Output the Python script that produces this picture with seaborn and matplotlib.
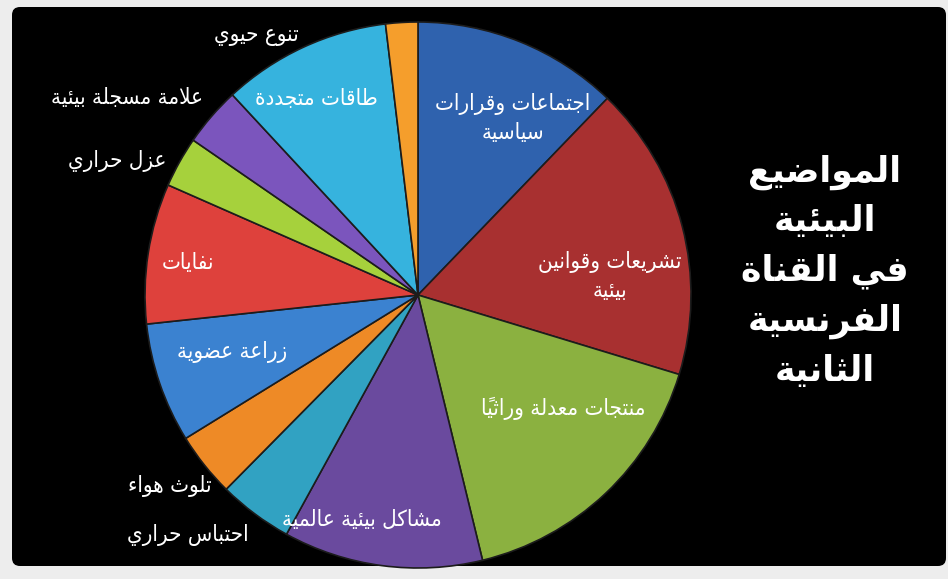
import matplotlib
matplotlib.use("Agg")
import matplotlib.pyplot as plt
from matplotlib.patches import FancyBboxPatch
import seaborn as sns

# ---------------- data ----------------
topics = [
    "اجتماعات وقرارات\nسياسية",
    "تشريعات وقوانين\nبيئية",
    "منتجات معدلة وراثياً",
    "مشاكل بيئية عالمية",
    "احتباس حراري",
    "تلوث هواء",
    "زراعة عضوية",
    "نفايات",
    "عزل حراري",
    "علامة مسجلة بيئية",
    "طاقات متجددة",
    "تنوع حيوي",
]
shares = [12.2, 17.5, 16.5, 11.8, 4.4, 3.8, 7.1, 8.3, 3.0, 3.5, 10.0, 1.9]
title_text = "المواضيع\nالبيئية\nفي القناة\nالفرنسية\nالثانية"

slice_colors = ["#2F62AE", "#A83030", "#8BB140", "#6A4A9E", "#31A2C2", "#EE8A26",
                "#3B82D0", "#DE413C", "#A6D13C", "#7B55BD", "#36B3DE", "#F59E2C"]

# label layout (pixel centres in the 948x579 canvas)
label_xy = [(513, 118), (610, 276), (563, 408), (362, 520), (188, 535), (170, 486),
            (232, 352), (188, 263), (117, 161), (127, 98), (316, 99), (256, 36)]

# ---------------- minimal Arabic shaping (presentation forms + RTL order) ----------------
_FORMS = {}
for ch, base, n in [('ء', 0xFE80, 1), ('آ', 0xFE81, 2), ('أ', 0xFE83, 2), ('ؤ', 0xFE85, 2),
                    ('إ', 0xFE87, 2), ('ئ', 0xFE89, 4), ('ا', 0xFE8D, 2), ('ب', 0xFE8F, 4),
                    ('ة', 0xFE93, 2), ('ت', 0xFE95, 4), ('ث', 0xFE99, 4), ('ج', 0xFE9D, 4),
                    ('ح', 0xFEA1, 4), ('خ', 0xFEA5, 4), ('د', 0xFEA9, 2), ('ذ', 0xFEAB, 2),
                    ('ر', 0xFEAD, 2), ('ز', 0xFEAF, 2), ('س', 0xFEB1, 4), ('ش', 0xFEB5, 4),
                    ('ص', 0xFEB9, 4), ('ض', 0xFEBD, 4), ('ط', 0xFEC1, 4), ('ظ', 0xFEC5, 4),
                    ('ع', 0xFEC9, 4), ('غ', 0xFECD, 4), ('ف', 0xFED1, 4), ('ق', 0xFED5, 4),
                    ('ك', 0xFED9, 4), ('ل', 0xFEDD, 4), ('م', 0xFEE1, 4), ('ن', 0xFEE5, 4),
                    ('ه', 0xFEE9, 4), ('و', 0xFEED, 2), ('ى', 0xFEEF, 2), ('ي', 0xFEF1, 4)]:
    _FORMS[ch] = [chr(base + k) for k in range(n)]
_LAM_ALEF = {'آ': 0xFEF5, 'أ': 0xFEF7, 'إ': 0xFEF9, 'ا': 0xFEFB}


def _is_mark(c):
    o = ord(c)
    return 0x064B <= o <= 0x0652 or o == 0x0670


def _shape_line(line):
    units = []
    chars = list(line)
    i = 0
    while i < len(chars):
        c = chars[i]
        if _is_mark(c) and units:
            units[-1]['marks'].append(c)
            i += 1
            continue
        if c == 'ل':
            j = i + 1
            marks = []
            while j < len(chars) and _is_mark(chars[j]):
                marks.append(chars[j])
                j += 1
            if j < len(chars) and chars[j] in _LAM_ALEF:
                units.append({'ch': None, 'lig': _LAM_ALEF[chars[j]], 'n': 2, 'marks': marks})
                i = j + 1
                continue
        n = len(_FORMS[c]) if c in _FORMS else 0
        units.append({'ch': c, 'lig': None, 'n': n, 'marks': []})
        i += 1
    glyphs = []
    for k, u in enumerate(units):
        n = u['n']
        if n == 0:
            g = u['ch']
        else:
            prev = units[k - 1] if k > 0 else None
            nxt = units[k + 1] if k + 1 < len(units) else None
            jp = prev is not None and prev['n'] == 4 and n >= 2
            jn = n == 4 and nxt is not None and nxt['n'] >= 2
            if u['lig'] is not None:
                g = chr(u['lig'] + (1 if jp else 0))
            else:
                idx = 3 if (jp and jn) else 1 if jp else 2 if jn else 0
                g = _FORMS[u['ch']][idx]
        glyphs.append(g + ''.join(u['marks']))
    return ''.join(reversed(glyphs))


def ar(text):
    return '\n'.join(_shape_line(l) for l in text.split('\n'))


# ---------------- figure ----------------
sns.set_theme(style="white")
plt.rcParams['font.family'] = ['DejaVu Sans']

W, H = 948, 579
fig = plt.figure(figsize=(W / 100, H / 100), dpi=100, facecolor="#EDEDED")

bg = fig.add_axes([0, 0, 1, 1], zorder=0)
bg.set_xlim(0, W)
bg.set_ylim(H, 0)
bg.axis("off")
panel = FancyBboxPatch((12, 7), 934, 559, boxstyle="round,pad=0,rounding_size=8",
                       facecolor="black", edgecolor="none")
bg.add_patch(panel)

cx, cy, r = 418, 295, 273
pie_ax = fig.add_axes([(cx - r) / W, (H - cy - r) / H, 2 * r / W, 2 * r / H], zorder=1)
palette = sns.color_palette(slice_colors)
wedges, _ = pie_ax.pie(shares, colors=palette, startangle=90, counterclock=False,
                       radius=1.0,
                       wedgeprops=dict(edgecolor="#1c1c1c", linewidth=1.2))
pie_ax.set_xlim(-1, 1)
pie_ax.set_ylim(-1, 1)
pie_ax.axis("off")
for w in wedges:
    w.set_clip_path(panel)

top = fig.add_axes([0, 0, 1, 1], zorder=2)
top.set_xlim(0, W)
top.set_ylim(H, 0)
top.axis("off")
top.patch.set_alpha(0)

for txt, (x, y) in zip(topics, label_xy):
    top.text(x, y, ar(txt), ha="center", va="center", color="white",
             fontsize=16, fontstretch="condensed", linespacing=1.45)

top.text(825, 271, ar(title_text), ha="center", va="center", color="white",
         fontsize=25, fontweight="bold", linespacing=1.55)

fig.savefig("out.png", dpi=100, facecolor=fig.get_facecolor())
